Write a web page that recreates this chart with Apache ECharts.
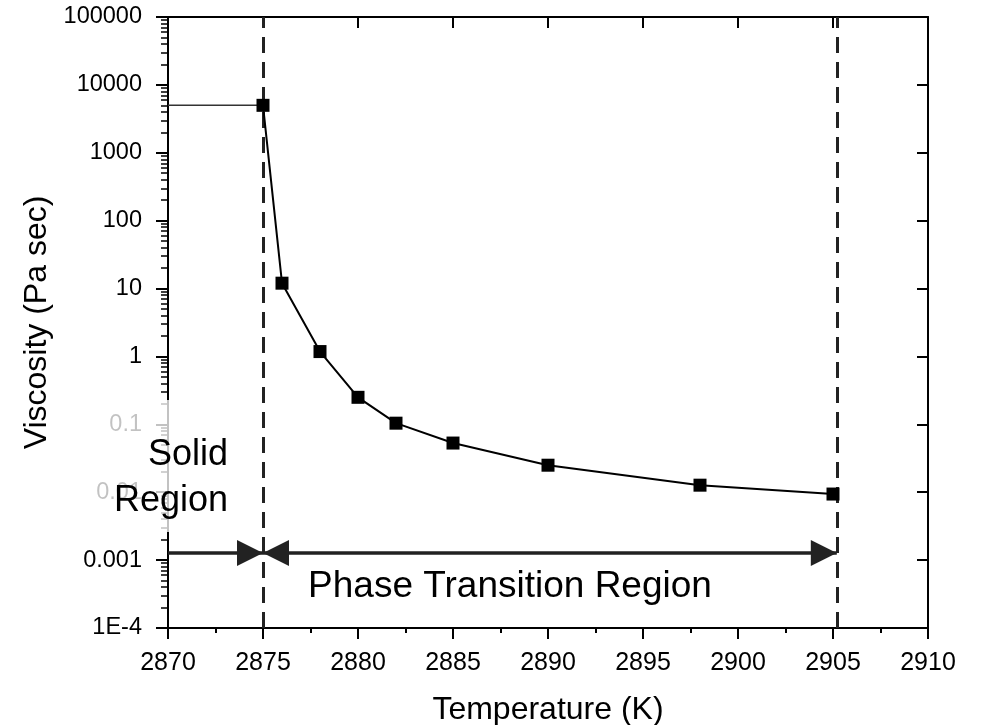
<!DOCTYPE html>
<html>
<head>
<meta charset="utf-8">
<script src="https://cdn.jsdelivr.net/npm/echarts@6/dist/echarts.min.js"></script>
<style>
  html, body { margin: 0; padding: 0; background: #fff; }
  #chart { width: 982px; height: 725px; }
</style>
</head>
<body>
<div id="chart"></div>
<script>
// measured points
var temps = [2875, 2876, 2878, 2880, 2882, 2885, 2890, 2898, 2905];
var viscosity = [5000, 12, 1.18, 0.25, 0.104, 0.053, 0.025, 0.0127, 0.0094];

// thin lead-in line at the solid viscosity
var leadTemps = [2870, 2875];
var leadVisc = [5000, 5000];

// region boundaries and arrow level
var boundaries = [2875, 2905.2];
var arrowLevel = 0.00127;

var yTicks = [1e-4, 1e-3, 1e-2, 1e-1, 1, 10, 100, 1000, 10000, 100000];
var yTickLabels = ['1E-4', '0.001', '0.01', '0.1', '1', '10', '100', '1000', '10000', '100000'];

var yMinorTicks = [];
for (var d = -4; d < 5; d++) {
    for (var m = 2; m < 10; m++) {
        yMinorTicks.push(m * Math.pow(10, d));
    }
}

var FONT = "'Liberation Sans', Arial, sans-serif";
var AXIS_LINE = { show: true, lineStyle: { color: '#000', width: 2 } };

var chart = echarts.init(document.getElementById('chart'));

var option = {
    animation: false,
    backgroundColor: '#fff',
    grid: { left: 168, right: 54, top: 17, bottom: 97, outerBoundsMode: 'none', containLabel: false },
    xAxis: [
        {
            type: 'value',
            min: 2870,
            max: 2910,
            interval: 5,
            position: 'bottom',
            name: 'Temperature (K)',
            nameLocation: 'middle',
            nameGap: 66,
            nameTextStyle: { fontFamily: FONT, fontSize: 32, color: '#000' },
            axisLine: AXIS_LINE,
            axisTick: { show: true, inside: false, length: 11, lineStyle: { color: '#000', width: 2 } },
            minorTick: { show: true, splitNumber: 2, length: 5, lineStyle: { color: '#000', width: 2 } },
            axisLabel: {
                fontFamily: FONT, fontSize: 25, color: '#000', margin: 23,
                formatter: function (v) { return String(v); }
            },
            splitLine: { show: false }
        },
        {
            type: 'value',
            min: 2870,
            max: 2910,
            interval: 5,
            position: 'top',
            axisLine: AXIS_LINE,
            axisTick: { show: true, inside: true, length: 11, lineStyle: { color: '#000', width: 2 } },
            axisLabel: { show: false },
            splitLine: { show: false }
        }
    ],
    yAxis: [
        {
            type: 'log',
            logBase: 10,
            min: 1e-4,
            max: 1e5,
            position: 'left',
            name: 'Viscosity (Pa sec)',
            nameLocation: 'middle',
            nameGap: 115,
            nameTextStyle: { fontFamily: FONT, fontSize: 32, color: '#000' },
            axisLine: AXIS_LINE,
            axisTick: { show: true, inside: false, length: 12, customValues: yTicks, lineStyle: { color: '#000', width: 2 } },
            axisLabel: {
                fontFamily: FONT, fontSize: 23.5, color: '#000', margin: 26,
                customValues: yTicks,
                formatter: function (v) {
                    return yTickLabels[Math.round(Math.log10(v)) + 4];
                }
            },
            splitLine: { show: false }
        },
        {
            type: 'log',
            logBase: 10,
            min: 1e-4,
            max: 1e5,
            position: 'right',
            axisLine: AXIS_LINE,
            axisTick: { show: true, inside: true, length: 11, customValues: yTicks, lineStyle: { color: '#000', width: 2 } },
            axisLabel: { show: false },
            splitLine: { show: false }
        },
        {
            type: 'log',
            logBase: 10,
            min: 1e-4,
            max: 1e5,
            position: 'left',
            axisLine: { show: false },
            axisTick: { show: true, inside: false, length: 7, customValues: yMinorTicks, lineStyle: { color: '#000', width: 1.5 } },
            axisLabel: { show: false },
            splitLine: { show: false }
        }
    ],
    graphic: [
        // the text box in the original washes out the axis behind it
        { type: 'rect', z: 50, shape: { x: 94, y: 400, width: 142, height: 132 }, style: { fill: 'rgba(255,255,255,0.76)' } },
        { type: 'text', z: 60, x: 228, y: 455, style: { text: 'Solid', font: '36px ' + FONT, fill: '#000', textAlign: 'right', textVerticalAlign: 'middle' } },
        { type: 'text', z: 60, x: 228, y: 501, style: { text: 'Region', font: '36px ' + FONT, fill: '#000', textAlign: 'right', textVerticalAlign: 'middle' } },
        { type: 'text', z: 60, x: 510, y: 587, style: { text: 'Phase Transition Region', font: '37px ' + FONT, fill: '#000', textAlign: 'center', textVerticalAlign: 'middle' } }
    ],
    series: [
        {
            name: 'lead',
            type: 'line',
            data: leadTemps.map(function (t, i) { return [t, leadVisc[i]]; }),
            showSymbol: false,
            symbol: 'none',
            lineStyle: { color: '#333', width: 1.5 },
            z: 2
        },
        {
            name: 'guides',
            type: 'line',
            data: [],
            markLine: {
                silent: true,
                symbol: ['none', 'none'],
                label: { show: false },
                lineStyle: { color: '#222', width: 3, type: [16, 9] },
                data: [
                    { xAxis: boundaries[0] },
                    { xAxis: boundaries[1] },
                    [
                        { coord: [2870, arrowLevel], symbol: 'none', lineStyle: { type: 'solid', width: 3.5 } },
                        { coord: [boundaries[0], arrowLevel], symbol: 'triangle', symbolSize: [26, 26], symbolOffset: [0, 13] }
                    ],
                    [
                        { coord: [boundaries[0], arrowLevel], symbol: 'triangle', symbolSize: [26, 26], symbolOffset: [0, 13], lineStyle: { type: 'solid', width: 3.5 } },
                        { coord: [boundaries[1], arrowLevel], symbol: 'triangle', symbolSize: [26, 26], symbolOffset: [0, 13] }
                    ]
                ]
            },
            z: 3
        },
        {
            name: 'viscosity',
            type: 'line',
            data: temps.map(function (t, i) { return [t, viscosity[i]]; }),
            symbol: 'rect',
            symbolSize: 13,
            itemStyle: { color: '#000' },
            lineStyle: { color: '#000', width: 2 },
            z: 5
        }
    ]
};

chart.setOption(option);
</script>
</body>
</html>
